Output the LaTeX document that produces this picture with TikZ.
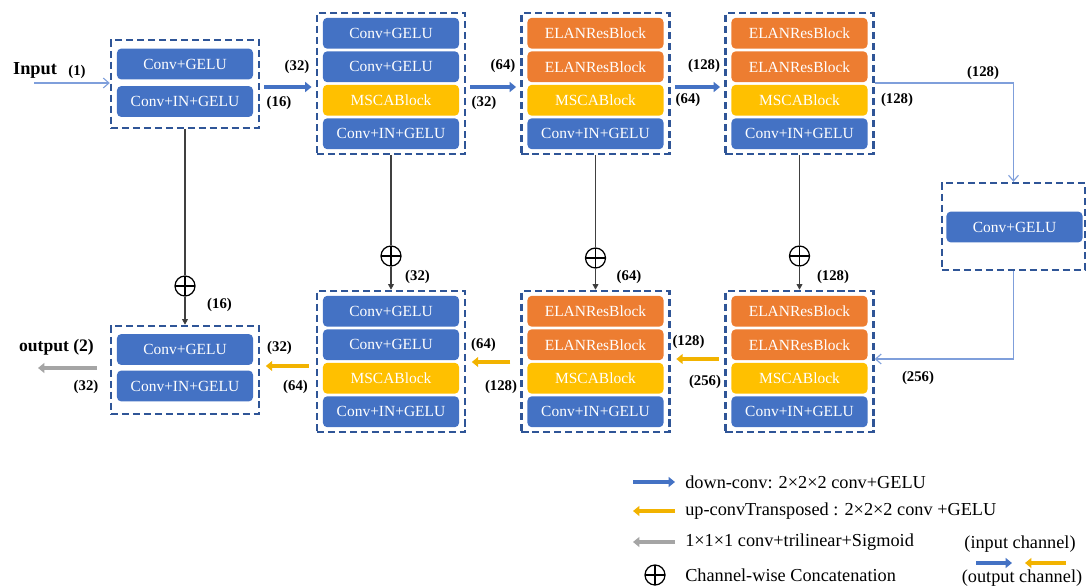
\documentclass[tikz,border=0pt]{standalone}
\usepackage{fontspec}
\setmainfont{Liberation Serif}
\usetikzlibrary{arrows.meta}

\definecolor{convblue}{HTML}{4472C4}
\definecolor{elanorange}{HTML}{ED7D31}
\definecolor{mscayellow}{HTML}{FFC000}
\definecolor{boxblue}{HTML}{2F5597}
\definecolor{linkblue}{HTML}{7F9FDB}
\definecolor{upyellow}{HTML}{F2B300}
\definecolor{outgray}{HTML}{A5A5A5}
\definecolor{skipgray}{HTML}{404040}

\tikzset{
  blk/.style={rounded corners=3pt, minimum width=3.4cm, minimum height=0.77cm,
    inner sep=0pt, text=white, font=\fontsize{11}{13}\selectfont},
  conv/.style={blk, fill=convblue},
  elan/.style={blk, fill=elanorange},
  msca/.style={blk, fill=mscayellow},
  stagebox/.style={draw=boxblue, line width=1.7pt, dash pattern=on 5pt off 2.8pt,
    minimum width=3.7cm, inner sep=0pt},
  lbl/.style={font=\bfseries\fontsize{10.5}{12}\selectfont, inner sep=0pt},
  legtxt/.style={font=\fontsize{13}{15}\selectfont, inner sep=0pt},
  downarrow/.style={draw=convblue, line width=2.8pt, -{Triangle[length=4.5pt,width=7pt]}},
  uparrow/.style={draw=upyellow, line width=2.8pt, -{Triangle[length=4.5pt,width=7pt]}},
  outarrow/.style={draw=outgray, line width=2.8pt, -{Triangle[length=4.5pt,width=7pt]}},
  linkarrow/.style={draw=linkblue, line width=0.8pt, -{Straight Barb[length=4pt,width=7pt]}},
  skip/.style={draw=skipgray, line width=1.3pt, -{Triangle[length=4pt,width=4pt,fill=black]}},
  oplus/.style={circle, draw, line width=0.9pt, fill=white, minimum size=0.5cm, inner sep=0pt,
    path picture={\draw[line width=0.9pt] (path picture bounding box.west) -- (path picture bounding box.east)
      (path picture bounding box.north) -- (path picture bounding box.south);}}
}

\begin{document}
\begin{tikzpicture}[x=0.025cm, y=-0.025cm]
  \useasboundingbox (0,0) rectangle (1088,586);

  % encoder
  \node[stagebox, minimum height=2.2cm] (f1) at (185,84) {};
  \node[conv] (e1a) at (185,64) {Conv+GELU};
  \node[conv] (e1b) at (185,101.5) {Conv+IN+GELU};

  \node[stagebox, minimum height=3.525cm] (f2) at (391,83.5) {};
  \node[conv] (e2a) at (391,33.25) {Conv+GELU};
  \node[conv] (e2b) at (391,66.75) {Conv+GELU};
  \node[msca] (e2c) at (391,100.25) {MSCABlock};
  \node[conv] (e2d) at (391,133.75) {Conv+IN+GELU};

  \node[stagebox, minimum height=3.525cm] (f3) at (595.5,83.5) {};
  \node[elan] (e3a) at (595.5,33.25) {ELANResBlock};
  \node[elan] (e3b) at (595.5,66.75) {ELANResBlock};
  \node[msca] (e3c) at (595.5,100.25) {MSCABlock};
  \node[conv] (e3d) at (595.5,133.75) {Conv+IN+GELU};

  \node[stagebox, minimum height=3.525cm] (f4) at (799.5,83.5) {};
  \node[elan] (e4a) at (799.5,33.25) {ELANResBlock};
  \node[elan] (e4b) at (799.5,66.75) {ELANResBlock};
  \node[msca] (e4c) at (799.5,100.25) {MSCABlock};
  \node[conv] (e4d) at (799.5,133.75) {Conv+IN+GELU};

  % bottleneck
  \node[stagebox, minimum width=3.575cm, minimum height=2.175cm] (fb) at (1013.5,226.5) {};
  \node[conv] (bn) at (1014.5,227) {Conv+GELU};

  % decoder
  \node[stagebox, minimum height=3.525cm] (g4) at (799.5,361.5) {};
  \node[elan] (d4a) at (799.5,311.25) {ELANResBlock};
  \node[elan] (d4b) at (799.5,344.75) {ELANResBlock};
  \node[msca] (d4c) at (799.5,378.25) {MSCABlock};
  \node[conv] (d4d) at (799.5,411.75) {Conv+IN+GELU};

  \node[stagebox, minimum height=3.525cm] (g3) at (595.5,361.5) {};
  \node[elan] (d3a) at (595.5,311.25) {ELANResBlock};
  \node[elan] (d3b) at (595.5,344.75) {ELANResBlock};
  \node[msca] (d3c) at (595.5,378.25) {MSCABlock};
  \node[conv] (d3d) at (595.5,411.75) {Conv+IN+GELU};

  \node[stagebox, minimum height=3.525cm] (g2) at (391,361.5) {};
  \node[conv] (d2a) at (391,311.25) {Conv+GELU};
  \node[conv] (d2b) at (391,344.75) {Conv+GELU};
  \node[msca] (d2c) at (391,378.25) {MSCABlock};
  \node[conv] (d2d) at (391,411.75) {Conv+IN+GELU};

  \node[stagebox, minimum height=2.2cm] (g1) at (185,370) {};
  \node[conv] (d1a) at (185,349.5) {Conv+GELU};
  \node[conv] (d1b) at (185,386) {Conv+IN+GELU};

  % input / output
  \node[font=\bfseries\fontsize{13}{15}\selectfont, inner sep=0pt] (inlbl) at (35,70) {Input};
  \node[lbl] at (77,72) {(1)};
  \coordinate (in) at (34,83);
  \draw[linkarrow] (in) -- (in -| f1.west);
  \node[font=\bfseries\fontsize{12.5}{14}\selectfont, inner sep=0pt] (outlbl) at (56.5,347) {output (2)};
  \coordinate (out) at (38,368);
  \draw[outarrow, shorten <=9pt] (g1.west |- out) -- (out);
  \node[lbl] at (86,387) {(32)};

  % down path
  \draw[downarrow, shorten <=3pt, shorten >=3pt] (f1.east |- 0,87) -- (f2.west |- 0,87);
  \draw[downarrow, shorten <=3pt, shorten >=3pt] (f2.east |- 0,87) -- (f3.west |- 0,87);
  \draw[downarrow, shorten <=3pt, shorten >=3pt] (f3.east |- 0,87) -- (f4.west |- 0,87);
  \node[lbl] at (297,67) {(32)};
  \node[lbl] at (279,103) {(16)};
  \node[lbl] at (503,66) {(64)};
  \node[lbl] at (484,103) {(32)};
  \node[lbl] at (704,66) {(128)};
  \node[lbl] at (688,100) {(64)};

  % bottleneck links
  \draw[linkarrow] (f4.east |- 0,83) -| (fb.north);
  \draw[linkarrow] (fb.south) |- (g4.east |- 0,359);
  \node[lbl] at (983,73) {(128)};
  \node[lbl] at (897,100) {(128)};
  \node[lbl] at (918,378) {(256)};

  % up path
  \draw[uparrow, shorten <=4pt, shorten >=4pt] (g4.west |- 0,359) -- (g3.east |- 0,359);
  \draw[uparrow, shorten <=7pt, shorten >=4pt] (g3.west |- 0,362) -- (g2.east |- 0,362);
  \draw[uparrow, shorten <=5pt, shorten >=4pt] (g2.west |- 0,366) -- (g1.east |- 0,366);
  \node[lbl] at (688.5,342) {(128)};
  \node[lbl] at (705,382) {(256)};
  \node[lbl] at (483.5,345) {(64)};
  \node[lbl] at (501,387) {(128)};
  \node[lbl] at (279.5,348) {(32)};
  \node[lbl] at (295.5,387) {(64)};

  % skip connections
  \node[oplus] (c1) at (185,286) {};
  \node[oplus] (c2) at (391,256) {};
  \node[oplus] (c3) at (595.5,258) {};
  \node[oplus] (c4) at (799.5,256) {};
  \draw[skipgray, line width=1.3pt] (f1.south) -- (c1.north);
  \draw[skip] (c1.south) -- (g1.north);
  \draw[skipgray, line width=1.3pt] (f2.south) -- (c2.north);
  \draw[skip] (c2.south) -- (g2.north);
  \draw[skipgray, line width=1.3pt] (f3.south) -- (c3.north);
  \draw[skip] (c3.south) -- (g3.north);
  \draw[skipgray, line width=1.3pt] (f4.south) -- (c4.north);
  \draw[skip] (c4.south) -- (g4.north);
  \node[lbl] at (219.5,305) {(16)};
  \node[lbl] at (417.5,277) {(32)};
  \node[lbl] at (629,277) {(64)};
  \node[lbl] at (833,277) {(128)};

  % legend
  \node[legtxt, anchor=west] (lg1) at (685,482) {down-conv: 2×2×2 conv+GELU};
  \node[legtxt, anchor=west] (lg2) at (685,511) {up-convTransposed : 2×2×2 conv +GELU};
  \node[legtxt, anchor=west] (lg3) at (685,542) {1×1×1 conv+trilinear+Sigmoid};
  \node[legtxt, anchor=west] (lg4) at (685,575) {Channel-wise Concatenation};
  \coordinate (la) at (633,482);
  \coordinate (lb) at (633,511);
  \coordinate (lc) at (633,542);
  \draw[downarrow] (la) -- (la -| 675,0);
  \draw[uparrow] (lb -| 675,0) -- (lb);
  \draw[outarrow] (lc -| 675,0) -- (lc);
  \node[oplus, fill=none] (lgc) at (655,575) {};
  \node[legtxt] (chin) at (1020,544) {(input channel)};
  \node[legtxt] (chout) at (1022,578) {(output channel)};
  \coordinate (ld) at (976,563);
  \coordinate (le) at (1066,563);
  \draw[downarrow] (ld) -- (ld -| 1012,0);
  \draw[uparrow] (le) -- (le -| 1025,0);
\end{tikzpicture}
\end{document}
